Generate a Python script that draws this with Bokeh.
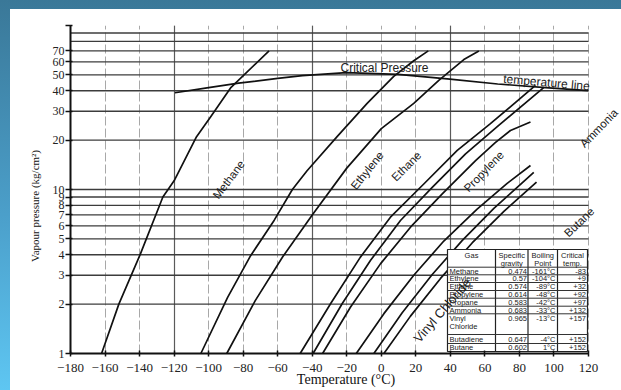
import math
from bokeh.plotting import figure
from bokeh.models import FixedTicker, Grid, Label, Range1d
from bokeh.core.properties import value
from bokeh.embed import file_html
from bokeh.resources import INLINE

# ---------------- data ----------------
x_ticks = [-180, -160, -140, -120, -100, -80, -60, -40, -20, 0, 20, 40, 60, 80, 100, 120]
y_ticks = [1, 2, 3, 4, 5, 6, 7, 8, 9, 10, 20, 30, 40, 50, 60, 70]
y_grid = [2, 3, 4, 5, 6, 7, 8, 9, 10, 20, 30, 40, 50, 60, 70, 80, 90]

methane_T = [-162, -152, -139.5, -126.5, -120, -107, -99, -87, -65]
methane_P = [1, 2, 4.05, 9, 11.3, 21, 27.6, 42, 70]

ethylene_T = [-104.5, -89, -76, -62, -51.5, -43, -25.6, -8.2, 7.2, 18.8, 27.2]
ethylene_P = [1, 2.2, 3.9, 6.5, 10, 13, 21, 33.5, 49, 61, 70]

ethane_T = [-89.5, -73, -57, -40, -20, 0, 18.8, 33.3, 47.8, 56.5]
ethane_P = [1, 2.1, 3.9, 7, 13.5, 23.5, 33.5, 46.3, 62, 70]

propylene_T = [-47, -29.4, -12.1, 5.3, 24.6, 44, 63.2, 89.3]
propylene_P = [1, 2.01, 3.87, 6.78, 10.8, 17.3, 25.2, 43.1]

propane_T = [-39.5, -22.7, -6.3, 11.1, 29.5, 48.8, 68, 94.2]
propane_P = [1, 2.01, 3.69, 6.47, 10.3, 16.5, 24.6, 42]

ammonia_T = [-34, -17.8, -0.5, 16.9, 35.3, 54.6, 66, 74.8, 86.4]
ammonia_P = [1, 1.92, 3.52, 5.89, 9.41, 15.0, 19.3, 22.9, 25.8]

vinyl_T = [-14.5, 1.5, 18.8, 36.2, 55.5, 72.9, 86.4]
vinyl_P = [1, 1.75, 3.0, 4.85, 7.6, 10.9, 14.0]

butadiene_T = [-4.3, 12.1, 29.5, 46.8, 65.2, 78.7, 88.3]
butadiene_P = [1, 1.77, 3.03, 4.88, 7.67, 10.3, 12.7]

butane_T = [1.5, 16.9, 34.3, 52.6, 71, 89.9]
butane_P = [1, 1.69, 2.87, 4.72, 7.36, 11.1]

crit_T = [-119.5, -100, -82.6, -60, -45.7, -20.3, 9.7, 39.7, 67.4, 95, 120]
crit_P = [38.9, 41.8, 44.5, 47.6, 49.5, 51.6, 50.3, 47.1, 44.0, 41.8, 40.1]

table_gas = ["Methane", "Ethylene", "Ethane", "Propylene", "Propane", "Ammonia",
             "Vinyl Chloride", "Butadiene", "Butane"]
table_sg = ["0.474", "0.57", "0.574", "0.614", "0.583", "0.683", "0.965", "0.647", "0.602"]
table_bp = ["-161°C", "-104°C", "-89°C", "-48°C", "-42°C", "-33°C", "-13°C", "-4°C", "1°C"]
table_ct = ["-83", "+9", "+32", "+92", "+97", "+132", "+157", "+152", "+152"]
table_head = [["Gas"], ["Specific", "gravity"], ["Boiling", "Point"], ["Critical", "temp."]]

# ---------------- layout helpers (page pixels -> data) ----------------
W, H = 621, 390
FL, FR120, FT, FB = 70, 588, 25, 353   # frame left, x=120 position, top, bottom
X0, X1 = -180, 120
PX_PER_UNIT = (FR120 - FL) / (X1 - X0)
XMAX = X0 + (W - FL) / PX_PER_UNIT      # frame extends to the right edge


def T_at(px):
    return X0 + (px - FL) / PX_PER_UNIT


def P_at(py):
    return 10 ** ((FB - py) / (FB - FT) * 2)


p = figure(width=W, height=H, x_range=Range1d(X0, XMAX), y_range=Range1d(1, 100),
           y_axis_type="log", output_backend="svg", toolbar_location=None,
           min_border_left=FL, min_border_right=0, min_border_top=FT,
           min_border_bottom=H - FB)
p.border_fill_color = None
p.background_fill_color = None
p.outline_line_color = None
p.styles = {
    "background": "linear-gradient(#ffffff, #ffffff) 10px 9px / 100% 100% no-repeat, "
                  "linear-gradient(to bottom, #3a7898, #4b9fca 55%, #5ec6f2)",
}

# axes
xa = p.xaxis[0]
xa.ticker = FixedTicker(ticks=x_ticks)
xa.bounds = (X0, X1)
ya = p.yaxis[0]
ya.ticker = FixedTicker(ticks=y_ticks + [100])
ya.major_label_overrides = {100: ""}
for ax in (xa, ya):
    ax.axis_line_color = "#111111"
    ax.axis_line_width = 2
    ax.major_tick_line_color = "#111111"
    ax.major_tick_line_width = 1.5
    ax.minor_tick_line_color = None
    ax.major_label_text_font = "Liberation Serif"
    ax.major_label_text_color = "#222222"
    ax.axis_label_text_font = "Liberation Serif"
    ax.axis_label_text_font_style = "normal"
    ax.axis_label_text_color = "#111111"
xa.major_tick_in = 3
xa.major_tick_out = 3
xa.major_label_standoff = 7
xa.major_label_text_font_size = "13px"
xa.axis_label = "Temperature (°C)"
xa.axis_label_text_font_size = "14px"
xa.axis_label_standoff = -3
ya.major_tick_in = 2
ya.major_tick_out = 5
ya.major_label_standoff = 1
ya.major_label_text_font_size = "12px"
ya.axis_label = "Vapour pressure (kg/cm²)" + "\u00a0" * 12
ya.axis_label_text_font_size = "11px"
ya.axis_label_standoff = 9

# grids
p.xgrid.ticker = FixedTicker(ticks=x_ticks[1:])
p.xgrid.grid_line_color = "#a8a8a8"
p.xgrid.grid_line_width = 1
p.xgrid.grid_line_dash = "9 3"
p.ygrid.grid_line_color = None
dark_v = Grid(dimension=0, ticker=FixedTicker(ticks=[-120, -40, 40]),
              grid_line_color="#5a5a5a", grid_line_width=1.2)
p.add_layout(dark_v)
p.segment(x0=X0, y0=y_grid, x1=X1, y1=y_grid, line_color="#3c3c3c", line_width=1.3)

# curves
curves = [
    (methane_T, methane_P), (ethylene_T, ethylene_P), (ethane_T, ethane_P),
    (propylene_T, propylene_P), (propane_T, propane_P), (ammonia_T, ammonia_P),
    (vinyl_T, vinyl_P), (butadiene_T, butadiene_P), (butane_T, butane_P),
]
for t, pr in curves:
    p.line(t, pr, line_color="#111111", line_width=1.7, line_join="round")
p.line(crit_T, crit_P, line_color="#111111", line_width=1.7, line_join="round")

# table
cols_px = [447, 495, 527.5, 557, 587]
tbl_top, tbl_head_bot, tbl_bot = 249, 266.7, 351
row_lines_px = [274.3, 282, 290, 297.7, 305.7, 313.3, 334, 343, 351]
row_center_px = [270.6, 278.2, 286, 293.8, 301.7, 309.5, 317.8, 338.6, 347]
p.quad(left=T_at(cols_px[0]), right=T_at(cols_px[-1]), top=P_at(tbl_top),
       bottom=P_at(tbl_bot), fill_color="white", line_color="#222222", line_width=1.2)
p.segment(x0=[T_at(c) for c in cols_px[1:-1]], y0=P_at(tbl_top),
          x1=[T_at(c) for c in cols_px[1:-1]], y1=P_at(tbl_bot),
          line_color="#222222", line_width=1.2)
hl = [tbl_head_bot] + row_lines_px[:-1]
p.segment(x0=T_at(cols_px[0]), y0=[P_at(v) for v in hl], x1=T_at(cols_px[-1]),
          y1=[P_at(v) for v in hl], line_color="#333333", line_width=1)

tf = value("Liberation Sans")
fs = "7.5px"
hx, hy, ht = [], [], []
for i, lines in enumerate(table_head):
    cx = (cols_px[i] + cols_px[i + 1]) / 2
    for j, s in enumerate(lines):
        hx.append(T_at(cx))
        hy.append(P_at(255 + 7.5 * j))
        ht.append(s)
p.text(x=hx, y=hy, text=ht, text_font=tf, text_font_size=fs, text_align="center",
       text_baseline="middle", text_color="#222222")
gx, gy, gt = [], [], []
for name, yc in zip(table_gas, row_center_px):
    for j, s in enumerate(name.split(" ")):
        gx.append(T_at(449))
        gy.append(P_at(yc + 8.3 * j))
        gt.append(s)
p.text(x=gx, y=gy, text=gt, text_font=tf, text_font_size=fs, text_align="left",
       text_baseline="middle", text_color="#222222")
for vals, right in ((table_sg, cols_px[2] - 1), (table_bp, cols_px[3] - 2),
                    (table_ct, cols_px[4] - 1.5)):
    p.text(x=[T_at(right)] * len(vals), y=[P_at(v) for v in row_center_px], text=vals,
           text_font=tf, text_font_size=fs, text_align="right",
           text_baseline="middle", text_color="#222222")

# curve labels (data position, angle in degrees)
lab_font = "Liberation Sans"
curve_labels = [
    ("Methane", -88.3, 11.5, 53, "11.5px"),
    ("Ethylene", -8.2, 13.06, 51, "11.5px"),
    ("Ethane", 14.5, 13.85, 45, "11.5px"),
    ("Propylene", 59.4, 12.9, 46, "11.5px"),
    ("Ammonia", 126, 23.7, 46, "11.5px"),
    ("Butane", 114.6, 6.32, 44, "11.5px"),
    ("Vinyl Chloride", 35.3, 1.83, 49, "13px"),
]
for txt, x, y, ang, size in curve_labels:
    p.add_layout(Label(x=x, y=y, text=txt, angle=math.radians(ang), text_align="center",
                       text_baseline="middle", text_font=lab_font, text_font_size=size,
                       text_color="#1a1a1a"))
p.add_layout(Label(x=T_at(384), y=P_at(67.5), text="Critical Pressure", text_align="center",
                   text_baseline="middle", text_font=lab_font, text_font_size="12px",
                   text_color="#222222"))
p.add_layout(Label(x=T_at(546), y=P_at(82), text="temperature line", text_align="center",
                   text_baseline="middle", text_font=lab_font, text_font_size="12px",
                   angle=math.radians(-5), text_color="#222222"))

open("out.html", "w").write(file_html(p, INLINE))
